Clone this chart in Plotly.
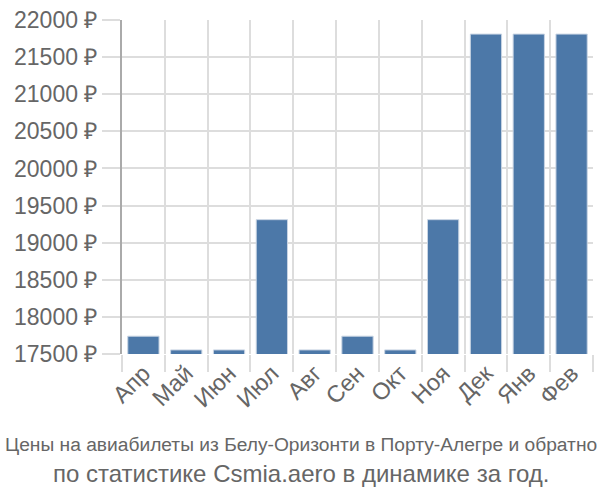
import plotly.graph_objects as go

months = ["Апр", "Май", "Июн", "Июл", "Авг", "Сен", "Окт", "Ноя", "Дек", "Янв", "Фев"]
prices = [17740, 17555, 17555, 19310, 17555, 17740, 17555, 19310, 21810, 21810, 21810]
y_ticks = [17500, 18000, 18500, 19000, 19500, 20000, 20500, 21000, 21500, 22000]
y_labels = [f"{v} ₽" for v in y_ticks]
title1 = "Цены на авиабилеты из Белу-Оризонти в Порту-Алегре и обратно"
title2 = "по статистике Csmia.aero в динамике за год."

fig = go.Figure(go.Bar(
    x=months, y=prices, base=0,
    marker=dict(color="#4c78a8", line=dict(color="#c8d4e3", width=1)),
    width=0.73,
))

fig.update_layout(
    width=600, height=500,
    margin=dict(l=122, r=7, t=14, b=146),
    plot_bgcolor="white", paper_bgcolor="white",
    showlegend=False,
    font=dict(family="Liberation Sans, Arial, sans-serif", color="#666666"),
    bargap=0.27,
)
fig.update_xaxes(
    type="category", tickson="boundaries", ticks="outside", ticklen=17,
    tickcolor="#dddddd", tickwidth=2,
    showgrid=True, gridcolor="#dddddd", gridwidth=2,
    tickangle=-45, tickfont=dict(size=23.5, color="#666666"),
    showline=False, zeroline=False,
)
fig.update_yaxes(
    range=[17500, 22000], tickvals=y_ticks, ticktext=y_labels,
    ticks="outside", ticklen=18, tickcolor="#dddddd", tickwidth=2,
    showgrid=True, gridcolor="#dddddd", gridwidth=2,
    showline=True, linecolor="#aaaaaa", linewidth=2,
    tickfont=dict(size=23, color="#666666"), zeroline=False,
)
fig.add_annotation(text=title1, xref="paper", yref="paper", x=0.5, xanchor="center",
                   y=-0.272, yanchor="middle", showarrow=False, xshift=-57,
                   font=dict(size=19.2, color="#666666"))
fig.add_annotation(text=title2, xref="paper", yref="paper", x=0.5, xanchor="center",
                   y=-0.357, yanchor="middle", showarrow=False, xshift=-57,
                   font=dict(size=24, color="#666666"))
fig.write_html("out.html")
